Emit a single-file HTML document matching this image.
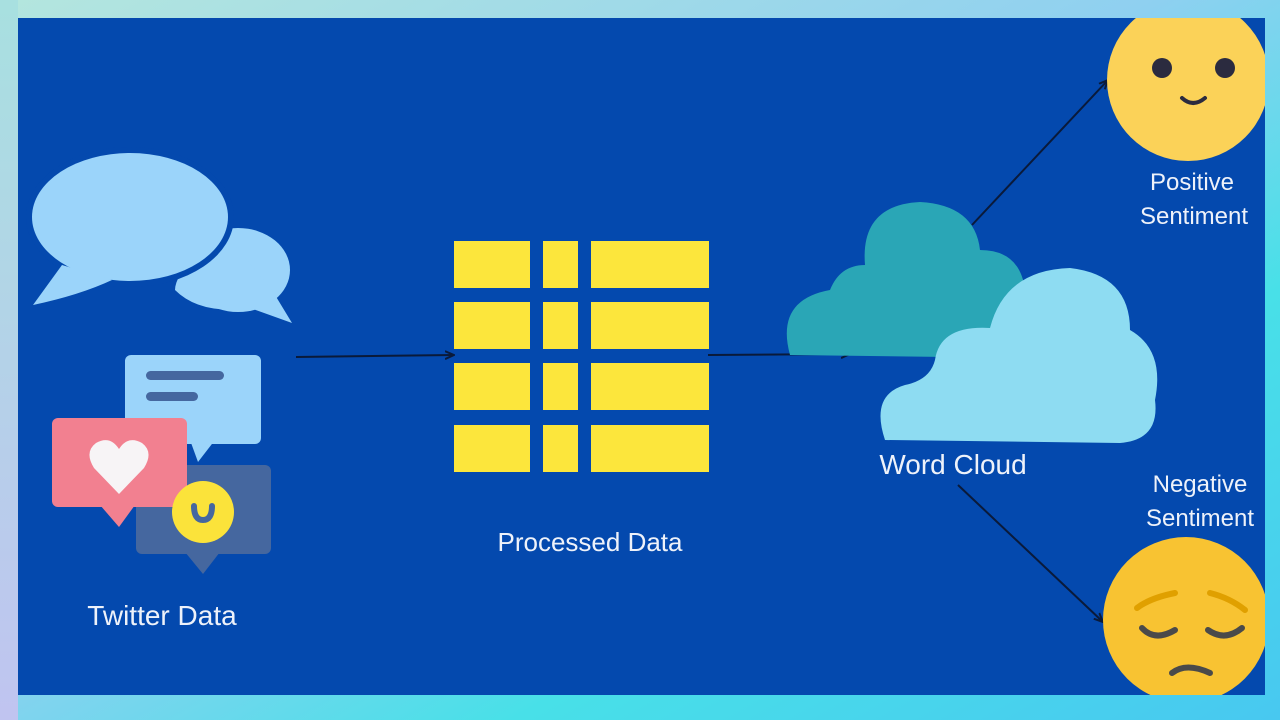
<!DOCTYPE html>
<html><head><meta charset="utf-8"><style>
html,body{margin:0;padding:0;width:1280px;height:720px;overflow:hidden}
body{background:linear-gradient(135deg,#a8e6e0 0%,#8fd8ea 30%,#5ad8e8 60%,#40d8e8 80%,#4cc8f0 100%)}
</style></head><body>
<svg width="1280" height="720" viewBox="0 0 1280 720" style="position:absolute;left:0;top:0">
<defs>
<linearGradient id="bg" x1="0" y1="0" x2="1" y2="1"><stop offset="0" stop-color="#b4e6de"/><stop offset="0.45" stop-color="#8fd0f0"/><stop offset="0.7" stop-color="#48e0e8"/><stop offset="1" stop-color="#48c8f0"/></linearGradient>
<linearGradient id="lg" x1="0" y1="0" x2="0" y2="1"><stop offset="0" stop-color="#a8e0e0"/><stop offset="1" stop-color="#c0c4f0"/></linearGradient>
<clipPath id="panel"><rect x="18" y="18" width="1247" height="677"/></clipPath>
<marker id="ar" markerWidth="10" markerHeight="10" refX="9" refY="5" orient="auto" markerUnits="userSpaceOnUse"><path d="M0,1 L9,5 L0,9" fill="none" stroke="#0a1a3a" stroke-width="2"/></marker>
</defs>
<rect width="1280" height="720" fill="url(#bg)"/>
<rect x="0" y="0" width="18" height="720" fill="url(#lg)"/>
<rect x="18" y="18" width="1247" height="677" fill="#0449ae"/>
<!-- speech bubbles -->
<ellipse cx="238" cy="270" rx="52" ry="42" fill="#9bd4fa" />
<path d="M222,230 Q175,270 175,290 Q200,315 250,308 L292,323 L272,290 Z" fill="#9bd4fa"/>
<ellipse cx="130" cy="217" rx="104" ry="70" fill="#0449ae"/>
<ellipse cx="130" cy="217" rx="98" ry="64" fill="#9bd4fa"/>
<path d="M62,265 L33,305 Q80,295 112,280 Z" fill="#9bd4fa"/>
<!-- small chat icons -->
<rect x="125" y="355" width="136" height="89" rx="6" fill="#9bd4fa"/>
<path d="M190,440 L215,440 L198,462 Z" fill="#9bd4fa"/>
<rect x="146" y="371" width="78" height="9" rx="4.5" fill="#45679f"/>
<rect x="146" y="392" width="52" height="9" rx="4.5" fill="#45679f"/>
<rect x="136" y="465" width="135" height="89" rx="6" fill="#45679f"/>
<path d="M185,552 L220,552 L203,574 Z" fill="#45679f"/>
<rect x="52" y="418" width="135" height="89" rx="6" fill="#f28090"/>
<path d="M100,505 L135,505 L119,527 Z" fill="#f28090"/>
<path d="M119,494 L94,468 Q84,452 96,443 Q110,435 119,449 Q128,435 142,443 Q154,452 144,468 Z" fill="#f7f4f6"/>
<circle cx="203" cy="512" r="31" fill="#fbe33a"/>
<path d="M194,506 Q194,520 203,520 Q212,520 212,506" fill="none" stroke="#45679f" stroke-width="6" stroke-linecap="round"/>
<text x="162" y="625" font-family="Liberation Sans,sans-serif" font-size="28" fill="#eef2fa" text-anchor="middle">Twitter Data</text>
<!-- arrows -->
<line x1="296" y1="357" x2="454" y2="355" stroke="#0a1a3a" stroke-width="2" marker-end="url(#ar)"/>
<line x1="708" y1="355" x2="850" y2="354" stroke="#0a1a3a" stroke-width="2" marker-end="url(#ar)"/>
<line x1="972" y1="225" x2="1108" y2="80" stroke="#0a1a3a" stroke-width="2" marker-end="url(#ar)"/>
<line x1="958" y1="485" x2="1103" y2="622" stroke="#0a1a3a" stroke-width="2" marker-end="url(#ar)"/>
<!-- grid -->
<g fill="#fce63c">
<rect x="454" y="241" width="76" height="47"/><rect x="543" y="241" width="35" height="47"/><rect x="591" y="241" width="118" height="47"/>
<rect x="454" y="302" width="76" height="47"/><rect x="543" y="302" width="35" height="47"/><rect x="591" y="302" width="118" height="47"/>
<rect x="454" y="363" width="76" height="47"/><rect x="543" y="363" width="35" height="47"/><rect x="591" y="363" width="118" height="47"/>
<rect x="454" y="425" width="76" height="47"/><rect x="543" y="425" width="35" height="47"/><rect x="591" y="425" width="118" height="47"/>
</g>
<text x="590" y="551" font-family="Liberation Sans,sans-serif" font-size="26" fill="#eef2fa" text-anchor="middle">Processed Data</text>
<!-- clouds -->
<path d="M790,355 Q775,300 830,290 Q840,265 865,265 Q860,205 920,202 Q975,205 980,250 Q1020,250 1025,290 L1025,358 Z" fill="#2aa6b6"/>
<path d="M885,440 Q870,395 905,385 Q930,380 935,360 Q940,325 990,328 Q1005,270 1070,268 Q1130,275 1130,330 Q1165,350 1155,400 Q1160,440 1120,443 Z" fill="#8edcf2"/>
<text x="953" y="474" font-family="Liberation Sans,sans-serif" font-size="28" fill="#eef2fa" text-anchor="middle">Word Cloud</text>
<g clip-path="url(#panel)">
<circle cx="1188" cy="80" r="81" fill="#fbd258"/>
<circle cx="1162" cy="68" r="10" fill="#2b2b3f"/><circle cx="1225" cy="68" r="10" fill="#2b2b3f"/>
<path d="M1182,98 Q1193,108 1205,98" fill="none" stroke="#2b2b3f" stroke-width="4" stroke-linecap="round"/>
<circle cx="1186" cy="620" r="83" fill="#f8c332"/>
<path d="M1137,608 Q1150,598 1175,593" fill="none" stroke="#e0a000" stroke-width="6" stroke-linecap="round"/>
<path d="M1210,593 Q1230,598 1245,610" fill="none" stroke="#e0a000" stroke-width="6" stroke-linecap="round"/>
<path d="M1142,628 Q1155,642 1175,630" fill="none" stroke="#4a4a4a" stroke-width="6" stroke-linecap="round"/>
<path d="M1208,630 Q1225,642 1242,628" fill="none" stroke="#4a4a4a" stroke-width="6" stroke-linecap="round"/>
<path d="M1172,673 Q1186,662 1210,673" fill="none" stroke="#4a4a4a" stroke-width="6" stroke-linecap="round"/>
<text x="1200" y="526" font-family="Liberation Sans,sans-serif" font-size="24" fill="#eef2fa" text-anchor="middle">Sentiment</text>
</g>
<text x="1192" y="190" font-family="Liberation Sans,sans-serif" font-size="24" fill="#eef2fa" text-anchor="middle">Positive</text>
<text x="1194" y="224" font-family="Liberation Sans,sans-serif" font-size="24" fill="#eef2fa" text-anchor="middle">Sentiment</text>
<text x="1200" y="492" font-family="Liberation Sans,sans-serif" font-size="24" fill="#eef2fa" text-anchor="middle">Negative</text>
</svg>
</body></html>
